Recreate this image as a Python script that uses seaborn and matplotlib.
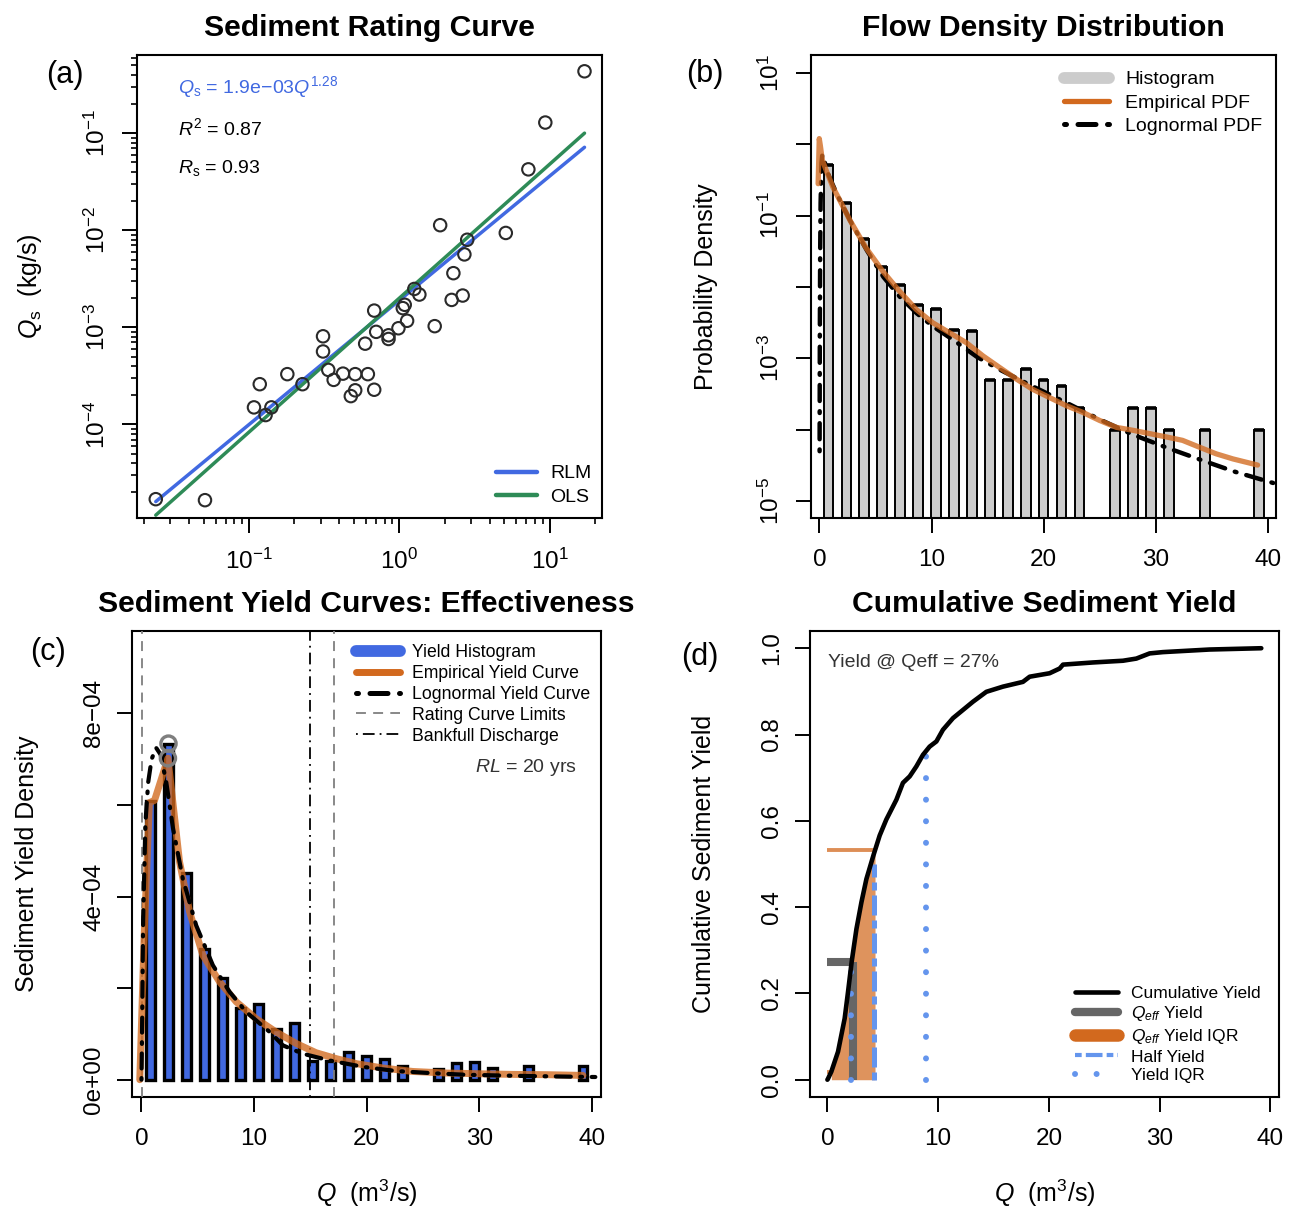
import numpy as np
import matplotlib
matplotlib.use("Agg")
import matplotlib.pyplot as plt
from matplotlib.lines import Line2D
from matplotlib.ticker import (FixedLocator, FuncFormatter, LogLocator,
                               NullFormatter, NullLocator, LogFormatterSciNotation)
import seaborn as sns

# ---------------- data ----------------
# (a) paired discharge / sediment flux observations
q_obs = [0.024, 0.051, 0.108, 0.118, 0.129, 0.141, 0.180, 0.227, 0.311, 0.311,
         0.337, 0.366, 0.422, 0.509, 0.509, 0.476, 0.618, 0.681, 0.593, 0.681,
         0.702, 0.848, 0.848, 0.987, 1.127, 1.055, 1.087, 1.259, 1.36, 1.72,
         1.87, 2.23, 2.29, 2.64, 2.71, 2.83, 5.11, 7.22, 9.36, 17.06]
qs_obs = [1.7e-5, 1.66e-5, 1.5e-4, 2.6e-4, 1.25e-4, 1.5e-4, 3.3e-4, 2.6e-4, 8.1e-4, 5.65e-4,
          3.65e-4, 2.88e-4, 3.34e-4, 3.3e-4, 2.25e-4, 1.96e-4, 3.3e-4, 2.28e-4, 6.8e-4, 1.49e-3,
          9.0e-4, 8.3e-4, 7.6e-4, 9.8e-4, 1.17e-3, 1.58e-3, 1.71e-3, 2.49e-3, 2.18e-3, 1.03e-3,
          1.13e-2, 1.92e-3, 3.62e-3, 2.13e-3, 5.65e-3, 8.0e-3, 9.4e-3, 4.25e-2, 0.129, 0.435]
rlm_coef, rlm_exp = 1.9e-3, 1.28
ols_coef, ols_exp = 2.0e-3, 1.38
r_squared = 0.87
r_spearman = 0.93

# (b)/(c) histogram bins
bin_centers = [0.8, 2.4, 4.0, 5.6, 7.2, 8.8, 10.4, 12.0, 13.6, 15.2, 16.8,
               18.4, 20.0, 21.6, 23.2, 26.4, 28.0, 29.6, 31.2, 34.4, 39.2]
flow_density = [0.51, 0.149, 0.0474, 0.019, 0.0105, 0.00557, 0.00485, 0.00252, 0.00242,
                5.0e-4, 5.0e-4, 7.06e-4, 5.0e-4, 4.05e-4, 2.02e-4, 1.0e-4, 2.0e-4,
                2.0e-4, 1.0e-4, 1.0e-4, 1.0e-4]
yield_density = [6.08e-4, 7.34e-4, 4.52e-4, 2.86e-4, 2.22e-4, 1.57e-4, 1.66e-4, 1.11e-4,
                 1.24e-4, 4.1e-5, 4.1e-5, 6.05e-5, 5.2e-5, 4.6e-5, 3.1e-5, 2.4e-5,
                 3.65e-5, 3.87e-5, 2.6e-5, 2.9e-5, 3.1e-5]

# (b) flow density curves
emp_pdf_q = [-0.12, -0.02, 0.08, 0.25, 0.6, 1.2, 1.94, 2.7, 4.17, 5.65, 7.14, 8.63,
             10.1, 11.6, 13.1, 14.6, 16.1, 17.6, 19.0, 20.5, 22.0, 23.5, 25.0, 26.5,
             28.0, 29.5, 31.0, 32.4, 33.9, 35.4, 36.9, 39.1]
emp_pdf = [0.28, 1.2, 0.95, 0.6, 0.43, 0.25, 0.15, 0.087, 0.035, 0.0166, 0.00873, 0.00485,
           0.00316, 0.00229, 0.00166, 0.00108, 7.4e-4, 5.1e-4, 3.7e-4, 2.84e-4, 2.18e-4,
           1.75e-4, 1.35e-4, 1.08e-4, 9.8e-5, 8.8e-5, 7.9e-5, 7.1e-5, 5.7e-5, 4.6e-5,
           3.9e-5, 3.2e-5]
logn_pdf_q = [0.01, 0.03, 0.06, 0.1, 0.18, 0.25, 0.35, 0.66, 1.55, 2.74, 4.23, 5.71, 7.2,
              8.7, 10.18, 11.96, 14.05, 16.13, 19.1, 22.1, 25.06, 28.0, 31.0, 34.0, 37.0, 41.0]
logn_pdf = [5e-5, 2e-3, 0.03, 0.15, 0.55, 0.72, 0.68, 0.42, 0.2, 0.085, 0.0325, 0.0138,
            0.0072, 0.00425, 0.00277, 0.0018, 0.00105, 6.9e-4, 4.0e-4, 2.36e-4, 1.38e-4,
            8.5e-5, 5.6e-5, 3.8e-5, 2.6e-5, 1.7e-5]

# (c) sediment yield curves
emp_yield_q = [-0.15, 0.25, 0.7, 1.16, 2.35, 3.38, 4.27, 5.45, 6.93, 8.42, 10.2, 11.97,
               13.75, 15.5, 17.3, 19.1, 21.45, 24.1, 27.1, 30.0, 33.0, 36.0, 39.2]
emp_yield = [0.0, 3.2e-4, 6.05e-4, 6.1e-4, 7.02e-4, 4.76e-4, 3.67e-4, 2.72e-4, 2.14e-4,
             1.70e-4, 1.33e-4, 1.04e-4, 7.9e-5, 5.9e-5, 4.6e-5, 3.5e-5, 2.55e-5, 1.8e-5,
             1.46e-5, 1.3e-5, 1.16e-5, 1.1e-5, 9.4e-6]
logn_yield_q = [0.0, 0.05, 0.15, 0.35, 0.6, 0.9, 1.3, 1.7, 2.2, 2.8, 3.67, 4.86, 6.34,
                7.82, 9.3, 11.4, 12.56, 14.3, 16.7, 19.7, 22.6, 25.6, 28.6, 31.5, 34.5, 40.3]
logn_yield = [0.0, 1.0e-4, 3.5e-4, 5.6e-4, 6.5e-4, 7.0e-4, 7.25e-4, 7.1e-4, 6.5e-4, 5.49e-4,
              4.39e-4, 3.37e-4, 2.5e-4, 1.92e-4, 1.48e-4, 1.04e-4, 7.5e-5, 5.7e-5, 4.2e-5,
              2.8e-5, 1.9e-5, 1.46e-5, 1.1e-5, 9.4e-6, 8e-6, 5.9e-6]
bankfull_q = 14.93
return_period = 20

# (d) cumulative sediment yield
cum_q = [0.0, 0.05, 0.36, 0.96, 1.56, 1.86, 2.19, 2.62, 3.07, 3.52, 4.18, 4.72, 5.32,
         6.23, 6.82, 7.43, 8.03, 8.63, 9.23, 9.84, 10.43, 11.34, 12.24, 13.14, 14.35,
         15.85, 17.65, 18.26, 20.06, 20.97, 21.27, 23.97, 26.68, 27.89, 29.09, 30.29,
         34.5, 39.17]
cum_yield = [0.0, 0.002, 0.019, 0.065, 0.142, 0.203, 0.273, 0.349, 0.411, 0.465, 0.522,
             0.566, 0.603, 0.649, 0.688, 0.703, 0.726, 0.753, 0.772, 0.784, 0.811, 0.838,
             0.857, 0.876, 0.899, 0.911, 0.922, 0.934, 0.942, 0.953, 0.962, 0.967, 0.971,
             0.976, 0.988, 0.991, 0.997, 1.0]
qeff = 2.31
qeff_yield = 0.272
qeff_iqr = [0.36, 4.3]
half_yield_q = 4.18
yield_iqr_q = [2.16, 8.86]
yield_iqr_levels = [0.25, 0.75]

# ---------------- style ----------------
sns.set_theme(style="ticks")
plt.rcParams.update({
    "font.family": ["Liberation Sans", "DejaVu Sans"],
    "mathtext.fontset": "custom",
    "mathtext.rm": "Liberation Sans",
    "mathtext.it": "Liberation Sans:italic",
    "mathtext.bf": "Liberation Sans:bold",
    "text.color": "black",
    "axes.labelcolor": "black",
    "axes.edgecolor": "black",
    "axes.linewidth": 1.5,
    "xtick.color": "black", "ytick.color": "black",
    "xtick.direction": "out", "ytick.direction": "out",
    "xtick.major.size": 10.5, "ytick.major.size": 10.5,
    "xtick.major.width": 1.4, "ytick.major.width": 1.4,
    "xtick.minor.size": 4.5, "ytick.minor.size": 4.5,
    "xtick.minor.width": 1.2, "ytick.minor.width": 1.2,
    "xtick.labelsize": 17.5, "ytick.labelsize": 17.5,
    "xtick.major.pad": 12, "ytick.major.pad": 9,
    "axes.labelsize": 18,
    "legend.frameon": False,
})

ROYAL = "#4169E1"
SEA = "#2E8B57"
CHOC = "#D2691E"
CORN = "#6495ED"
GRAY80 = "#CCCCCC"
GRAY40 = "#666666"
GRAY50 = "#7F7F7F"
TXT = "#333333"
DOTDASH = (0, (0.4, 2.3, 3.6, 2.3))

fig = plt.figure(figsize=(12.96, 12.12), dpi=100)
ax_a = fig.add_axes([0.1057, 0.5730, 0.3588, 0.3816])
ax_b = fig.add_axes([0.6254, 0.5730, 0.3588, 0.3816])
ax_c = fig.add_axes([0.1022, 0.0949, 0.3615, 0.3845])
ax_d = fig.add_axes([0.6250, 0.0949, 0.3619, 0.3845])


def place_legend(ax, handles, labels, x, y, fs, hl, htp, ls):
    ax.legend(handles, labels, loc="upper left", bbox_to_anchor=(x, y), fontsize=fs,
              handlelength=hl, handletextpad=htp, labelspacing=ls,
              borderaxespad=0, borderpad=0, frameon=False)


def title(ax, text):
    ax.set_title(text, fontsize=21.7, fontweight="bold", pad=14)


# ---------------- (a) sediment rating curve ----------------
ax_a.set_xscale("log")
ax_a.set_yscale("log")
q_line = np.array([min(q_obs), max(q_obs)])
sns.lineplot(x=q_line, y=rlm_coef * q_line ** rlm_exp, ax=ax_a, color=ROYAL, lw=2.5,
             estimator=None, sort=False)
sns.lineplot(x=q_line, y=ols_coef * q_line ** ols_exp, ax=ax_a, color=SEA, lw=2.5,
             estimator=None, sort=False)
sns.scatterplot(x=q_obs, y=qs_obs, ax=ax_a, marker="o", s=80, facecolors="none",
                edgecolor="#2a2a2a", linewidth=1.5, zorder=3)
ax_a.set_xlim(0.018, 22.3)
ax_a.set_ylim(1.1e-5, 0.64)
ax_a.xaxis.set_major_locator(LogLocator(base=10, numticks=10))
ax_a.xaxis.set_minor_locator(LogLocator(base=10, subs=np.arange(2, 10), numticks=40))
ax_a.yaxis.set_major_locator(LogLocator(base=10, numticks=10))
ax_a.yaxis.set_minor_locator(LogLocator(base=10, subs=np.arange(2, 10), numticks=40))
ax_a.xaxis.set_major_formatter(LogFormatterSciNotation())
ax_a.yaxis.set_major_formatter(LogFormatterSciNotation())
ax_a.xaxis.set_minor_formatter(NullFormatter())
ax_a.yaxis.set_minor_formatter(NullFormatter())
ax_a.set_ylabel(r"$Q_\mathrm{s}$  (kg/s)")
ax_a.set_xlabel("")
eq_txt = f"{rlm_coef:.1e}".replace("-", "\u2212")
ax_a.text(0.088, 0.931, r"$Q_\mathrm{s}$ = " + eq_txt + r"$Q^{" + f"{rlm_exp:.2f}" + r"}$",
          transform=ax_a.transAxes, color=ROYAL, fontsize=14, va="center", ha="left")
ax_a.text(0.088, 0.842, r"$R^2$ = " + f"{r_squared:.2f}", transform=ax_a.transAxes,
          fontsize=14, va="center", ha="left")
ax_a.text(0.088, 0.756, r"$R_\mathrm{s}$ = " + f"{r_spearman:.2f}", transform=ax_a.transAxes,
          fontsize=14, va="center", ha="left")
place_legend(ax_a, [Line2D([], [], color=ROYAL, lw=3.2), Line2D([], [], color=SEA, lw=3.2)],
             ["RLM", "OLS"], 0.772, 0.114, 14, 2.1, 0.7, 0.32)
title(ax_a, "Sediment Rating Curve")

# ---------------- (b) flow density distribution ----------------
ax_b.set_yscale("log")
centers = np.array(bin_centers)
fd = np.array(flow_density)
bar_w = 0.87
ax_b.bar(centers, fd - 1e-7, bottom=1e-7, width=bar_w, color=GRAY80, edgecolor="black",
         linewidth=1.4, zorder=2)
ax_b.hlines(fd, centers - bar_w / 2, centers + bar_w / 2, colors="black", lw=2.6, zorder=2)
sns.lineplot(x=logn_pdf_q, y=logn_pdf, ax=ax_b, color="black", lw=3.2, linestyle=DOTDASH,
             dash_capstyle="round", estimator=None, sort=False, zorder=3)
sns.lineplot(x=emp_pdf_q, y=emp_pdf, ax=ax_b, color=CHOC, alpha=0.78, lw=3.8,
             solid_capstyle="round", estimator=None, sort=False, zorder=4)
ax_b.set_xlim(-0.8, 40.7)
ax_b.set_ylim(10 ** -5.23, 10 ** 1.25)
ax_b.xaxis.set_major_locator(FixedLocator([0, 10, 20, 30, 40]))
ax_b.yaxis.set_major_locator(FixedLocator([10.0 ** e for e in range(-5, 2)]))
ax_b.yaxis.set_minor_locator(NullLocator())
ax_b.yaxis.set_major_formatter(FuncFormatter(
    lambda v, p: (r"$10^{%d}$" % int(round(np.log10(v))))
    if int(round(np.log10(v))) % 2 != 0 else ""))
ax_b.set_ylabel("Probability Density")
ax_b.set_xlabel("")
place_legend(ax_b,
             [Line2D([], [], color=GRAY80, lw=8.5, solid_capstyle="round"),
              Line2D([], [], color=CHOC, lw=3.8, solid_capstyle="round"),
              Line2D([], [], color="black", lw=3.6, linestyle=DOTDASH, dash_capstyle="round")],
             ["Histogram", "Empirical PDF", "Lognormal PDF"],
             0.545, 0.966, 14, 2.3, 0.85, 0.30)
title(ax_b, "Flow Density Distribution")

# ---------------- (c) sediment yield curves ----------------
ax_c.bar(centers, yield_density, width=0.78, color=ROYAL, edgecolor="black", linewidth=2.4,
         zorder=2)
rating_limits = [min(q_obs), max(q_obs)]
for lim in rating_limits:
    ax_c.axvline(lim, color=GRAY50, lw=1.3, linestyle=(0, (5.5, 4)), zorder=3)
ax_c.axvline(bankfull_q, color="black", lw=1.3, linestyle=(0, (1, 2.8, 6.5, 2.8)), zorder=3)
sns.lineplot(x=emp_yield_q, y=emp_yield, ax=ax_c, color=CHOC, alpha=0.78, lw=5,
             solid_capstyle="round", estimator=None, sort=False, zorder=4)
sns.lineplot(x=logn_yield_q, y=logn_yield, ax=ax_c, color="black", lw=3.0, linestyle=DOTDASH,
             dash_capstyle="round", estimator=None, sort=False, zorder=5)
i_bar = int(np.argmax(yield_density))
i_crv = int(np.argmax(emp_yield))
sns.scatterplot(x=[bin_centers[i_bar], emp_yield_q[i_crv]],
                y=[yield_density[i_bar], emp_yield[i_crv]], ax=ax_c, marker="o", s=120,
                facecolors="none", edgecolor=GRAY50, linewidth=2.4, zorder=6)
ax_c.set_xlim(-0.8, 40.8)
ax_c.set_ylim(-3.77e-5, 9.8e-4)
ax_c.xaxis.set_major_locator(FixedLocator([0, 10, 20, 30, 40]))
ax_c.yaxis.set_major_locator(FixedLocator([0, 2e-4, 4e-4, 6e-4, 8e-4]))
ax_c.yaxis.set_major_formatter(FuncFormatter(
    lambda v, p: f"{v:.0e}".replace("-", "\u2212") if p % 2 == 0 else ""))
ax_c.set_ylabel("Sediment Yield Density")
ax_c.set_xlabel(r"$Q$  (m$^3$/s)")
ax_c.text(0.731, 0.706, r"$RL$ = " + f"{return_period} yrs", transform=ax_c.transAxes,
          fontsize=14, color=TXT, va="center", ha="left")
place_legend(ax_c,
             [Line2D([], [], color=ROYAL, lw=8.5, solid_capstyle="round"),
              Line2D([], [], color=CHOC, lw=5, solid_capstyle="round"),
              Line2D([], [], color="black", lw=3.6, linestyle=DOTDASH, dash_capstyle="round"),
              Line2D([], [], color=GRAY50, lw=1.3, linestyle=(0, (5.5, 4))),
              Line2D([], [], color="black", lw=1.3, linestyle=(0, (1, 2.8, 6.5, 2.8)))],
             ["Yield Histogram", "Empirical Yield Curve", "Lognormal Yield Curve",
              "Rating Curve Limits", "Bankfull Discharge"],
             0.478, 0.972, 12.7, 2.45, 0.7, 0.22)
title(ax_c, "Sediment Yield Curves: Effectiveness")

# ---------------- (d) cumulative sediment yield ----------------
cq = np.array(cum_q)
cy = np.array(cum_yield)
lo, hi = qeff_iqr
inside = (cq > lo) & (cq < hi)
fq = np.concatenate([[lo], cq[inside], [hi]])
fy = np.interp(fq, cq, cy)
ax_d.fill_between(fq, 0, fy, color=CHOC, alpha=0.72, lw=0, zorder=1)
ax_d.hlines([fy[0], fy[-1]], 0, [lo, hi], colors=CHOC, alpha=0.75, lw=2.8, zorder=2)
ax_d.hlines(qeff_yield, 0, qeff, colors=GRAY40, lw=5.8, zorder=3)
ax_d.vlines(qeff, 0, qeff_yield, colors=GRAY40, lw=5.8, zorder=3)
ax_d.vlines(half_yield_q, 0, 0.5, colors=CORN, lw=3.6, linestyles=[(0, (1.6, 1.0, 4, 1.0))],
            zorder=4)
for qv, lev in zip(yield_iqr_q, yield_iqr_levels):
    ax_d.plot([qv, qv], [0, lev], color=CORN, lw=4.3, linestyle=(0, (0.01, 3.6)),
              dash_capstyle="round", zorder=4)
sns.lineplot(x=cum_q, y=cum_yield, ax=ax_d, color="black", lw=3.3, estimator=None,
             sort=False, solid_capstyle="round", zorder=5)
ax_d.set_xlim(-1.57, 40.77)
ax_d.set_ylim(-0.04, 1.04)
ax_d.xaxis.set_major_locator(FixedLocator([0, 10, 20, 30, 40]))
ax_d.yaxis.set_major_locator(FixedLocator([0, 0.2, 0.4, 0.6, 0.8, 1.0]))
ax_d.yaxis.set_major_formatter(FuncFormatter(lambda v, p: f"{v:.1f}"))
ax_d.set_ylabel("Cumulative Sediment Yield")
ax_d.set_xlabel(r"$Q$  (m$^3$/s)")
ax_d.text(0.038, 0.933, f"Yield @ Qeff = {qeff_yield * 100:.0f}%", transform=ax_d.transAxes,
          fontsize=14, color=TXT, va="center", ha="left")
place_legend(ax_d,
             [Line2D([], [], color="black", lw=3.3),
              Line2D([], [], color=GRAY40, lw=6, solid_capstyle="round"),
              Line2D([], [], color=CHOC, lw=9, solid_capstyle="round"),
              Line2D([], [], color=CORN, lw=3.0, linestyle=(0, (1.6, 1.0, 4, 1.0))),
              Line2D([], [], color=CORN, lw=4.3, linestyle=(0, (0.01, 3.6)),
                     dash_capstyle="round")],
             ["Cumulative Yield", r"$Q_{eff}$ Yield", r"$Q_{eff}$ Yield IQR", "Half Yield",
              "Yield IQR"],
             0.565, 0.2386, 12.5, 2.45, 0.75, 0.2)
title(ax_d, "Cumulative Sediment Yield")

# ---------------- shared axis cosmetics ----------------
for ax in (ax_a, ax_b, ax_c, ax_d):
    for s in ax.spines.values():
        s.set_visible(True)
        s.set_linewidth(1.5)
        s.set_color("black")
    ax.yaxis.set_label_coords(-0.2, 0.5)
    ax.xaxis.set_label_coords(0.5, -0.172)
    ax.tick_params(axis="y", labelrotation=90)
    for t in ax.get_yticklabels():
        t.set_verticalalignment("center")

for lbl, (px, py) in {"(a)": (65, 75), "(b)": (705, 74), "(c)": (48, 652),
                      "(d)": (700, 657)}.items():
    fig.text(px / 1296, 1 - py / 1212, lbl, fontsize=22, ha="center", va="center")

fig.savefig("out.png", dpi=100)
